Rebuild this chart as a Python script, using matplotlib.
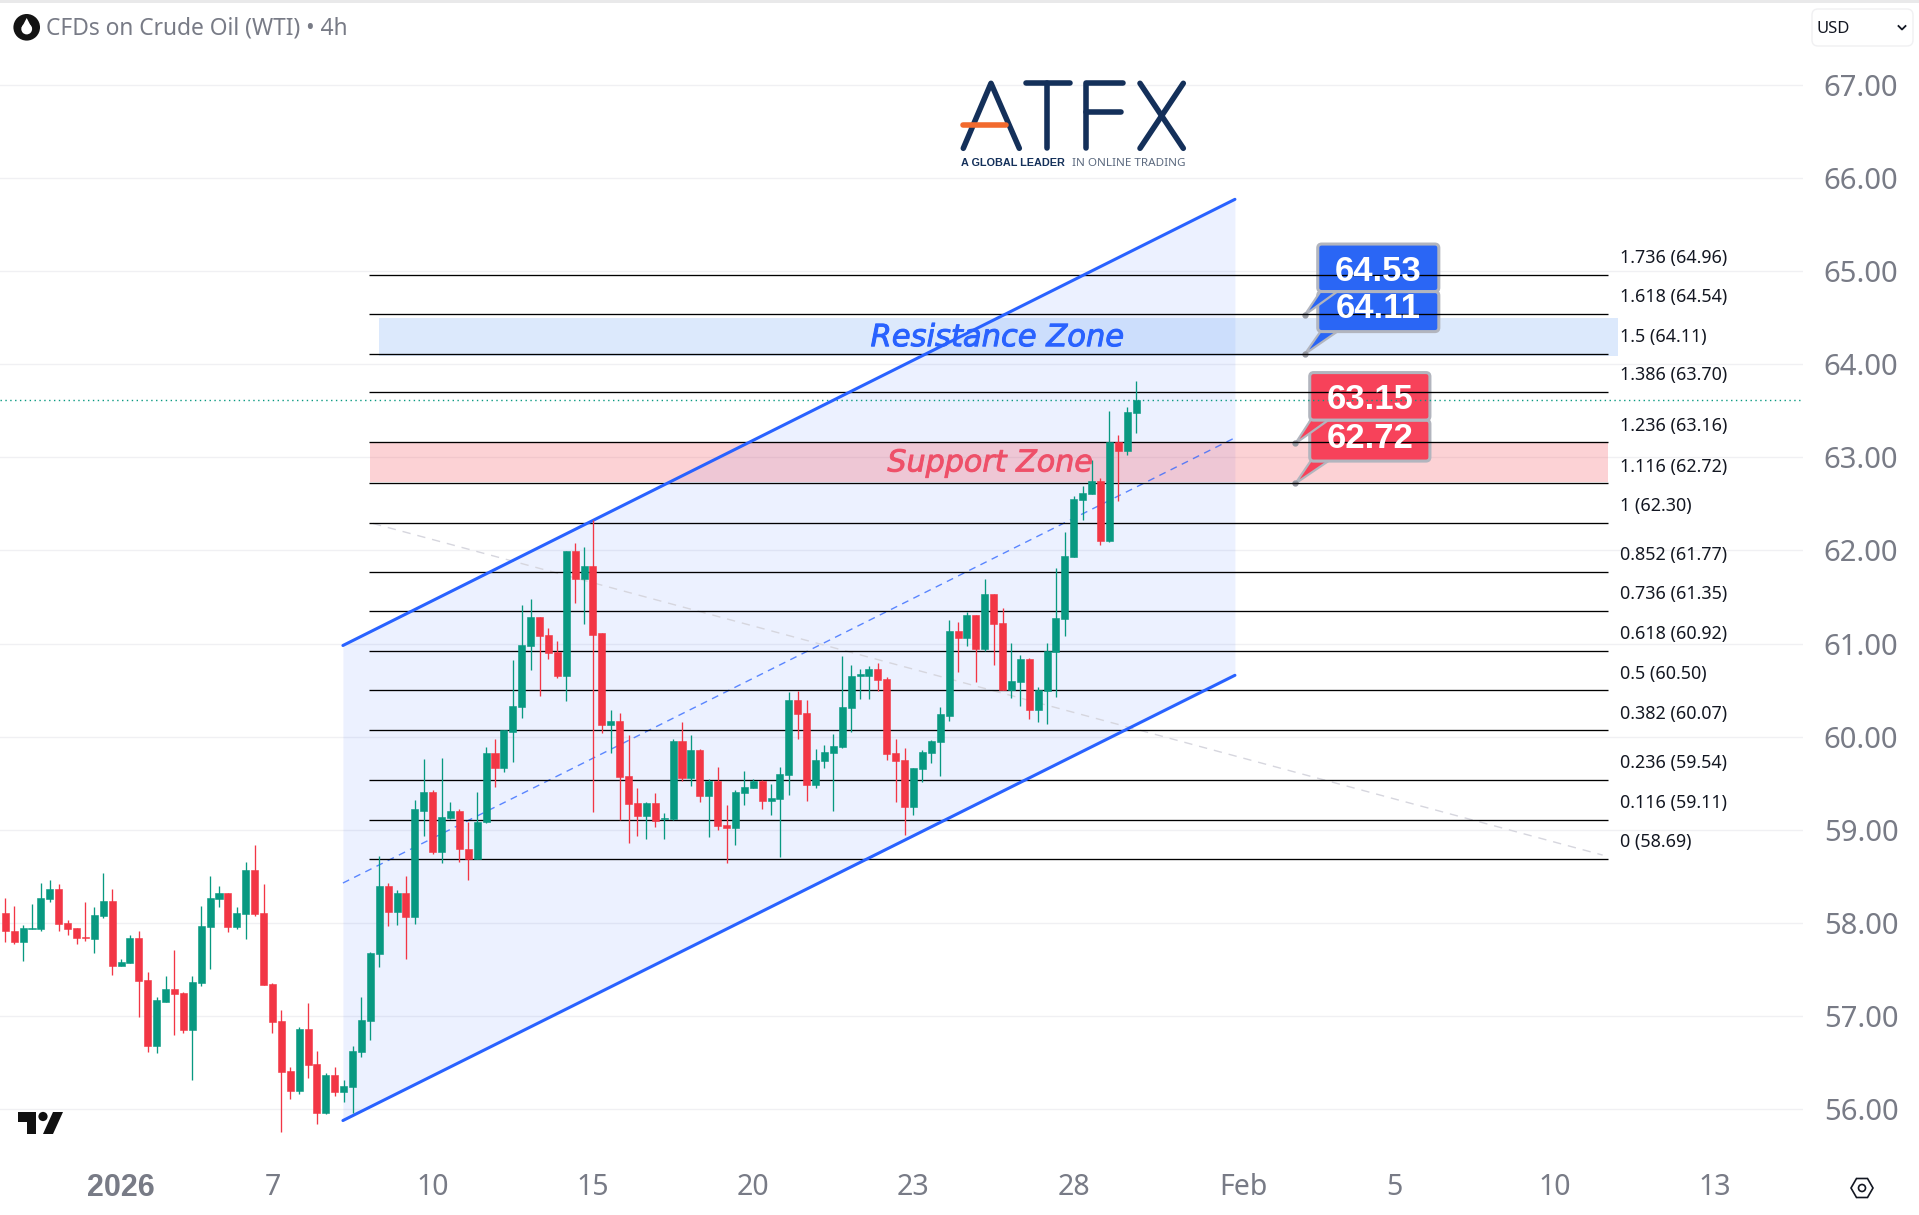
#CFDs on Crude Oil (WTI) 4h candles with channel, fib levels and zones
import matplotlib
matplotlib.use("Agg")
import matplotlib.pyplot as plt
import matplotlib.patheffects as pe
from matplotlib.patches import FancyBboxPatch, Polygon, Circle, Rectangle, Ellipse

opens = [58.11,57.92,57.80,57.94,57.94,58.26,58.37,58.00,57.95,57.85,57.83,58.08,58.24,57.54,57.57,57.84,
         57.39,56.68,57.15,57.29,57.25,56.85,57.36,57.96,58.26,58.32,57.96,58.10,58.57,58.11,57.35,56.95,
         56.41,56.20,56.86,56.49,55.96,56.37,56.19,56.24,56.62,56.95,57.67,58.40,58.12,58.32,58.06,59.20,
         59.41,58.76,59.13,59.20,58.80,58.69,59.08,59.83,59.66,60.05,60.32,60.97,61.29,61.09,60.91,60.65,
         61.99,61.69,61.83,61.11,60.13,60.17,59.58,59.29,59.15,59.29,59.12,59.12,59.95,59.56,59.86,59.36,
         59.52,59.05,59.02,59.40,59.45,59.52,59.31,59.33,59.59,60.39,60.25,59.48,59.74,59.83,59.89,60.31,
         60.65,60.65,60.73,60.62,59.83,59.75,59.25,59.65,59.83,59.94,60.22,61.14,61.06,61.31,60.94,61.53,
         61.22,60.50,60.59,60.83,60.29,60.49,60.91,61.26,61.93,62.54,62.61,62.75,62.10,63.17,63.07,63.48]
highs = [58.27,58.18,57.98,58.20,58.43,58.46,58.42,58.03,57.95,58.23,58.17,58.54,58.37,57.61,57.87,57.92,
         57.48,57.21,57.43,57.71,57.26,57.43,58.18,58.50,58.40,58.32,58.17,58.66,58.84,58.42,57.36,57.07,
         56.46,56.88,57.14,56.63,56.39,56.45,56.32,56.68,57.21,57.69,58.72,58.43,58.36,58.51,59.32,59.76,
         59.43,59.77,59.30,59.23,59.08,59.41,59.89,59.98,60.07,60.82,61.41,61.48,61.29,61.17,61.03,61.99,
         62.08,62.04,62.33,61.11,60.29,60.25,60.02,59.45,59.30,59.40,59.18,59.98,60.16,60.02,59.87,59.55,
         59.68,59.27,59.43,59.63,59.55,59.54,59.49,59.68,60.48,60.49,60.39,59.87,59.91,60.03,60.87,60.77,
         60.73,60.76,60.79,60.64,59.98,59.88,59.67,59.86,59.97,60.32,61.25,61.23,61.34,61.31,61.69,61.53,
         61.38,61.01,60.88,60.85,60.53,61.01,61.81,62.20,62.59,62.69,62.97,62.78,63.50,63.24,63.54,63.82]
lows = [57.80,57.77,57.59,57.94,57.92,58.23,57.92,57.87,57.78,57.81,57.68,58.05,57.44,57.54,57.57,56.99,
        56.62,56.60,57.15,56.80,56.82,56.31,57.32,57.51,58.17,57.90,57.94,57.83,58.08,57.34,56.82,55.76,
        56.11,56.17,56.34,55.84,55.95,56.14,56.08,55.96,56.56,56.74,57.53,57.97,57.98,57.61,57.99,58.94,
        58.74,58.64,59.12,58.66,58.46,58.69,59.07,59.46,59.62,59.73,60.20,60.72,60.44,60.84,60.63,60.38,
        61.44,61.21,59.19,60.04,59.83,59.11,58.86,58.93,58.90,59.03,58.90,59.11,59.53,59.47,59.30,58.92,
        59.00,58.64,58.84,59.27,59.45,59.22,59.16,58.71,59.38,59.98,59.31,59.45,59.66,59.20,59.88,60.05,
        60.41,60.41,60.49,59.75,59.30,58.95,59.16,59.51,59.72,59.58,60.17,60.70,60.97,60.59,60.92,60.77,
        60.50,60.42,60.33,60.19,60.16,60.14,60.43,61.08,61.93,62.33,62.61,62.06,62.09,62.53,63.03,63.26]
closes = [57.91,57.80,57.95,57.95,58.27,58.37,57.99,57.94,57.84,57.84,58.09,58.24,57.54,57.58,57.84,57.38,
          56.68,57.17,57.29,57.24,56.85,57.37,57.97,58.27,58.32,57.96,58.11,58.57,58.10,57.34,56.94,56.40,
          56.20,56.86,56.48,55.96,56.37,56.19,56.25,56.63,56.96,57.68,58.40,58.12,58.32,58.06,59.22,59.41,
          58.76,59.14,59.20,58.79,58.69,59.09,59.83,59.66,60.07,60.33,60.98,61.29,61.08,60.90,60.65,61.99,
          61.69,61.83,61.09,60.13,60.17,59.57,59.28,59.15,59.29,59.10,59.13,59.95,59.56,59.86,59.36,59.52,
          59.04,59.02,59.41,59.46,59.52,59.31,59.34,59.60,60.39,60.24,59.48,59.75,59.84,59.90,60.32,60.65,
          60.67,60.73,60.61,59.82,59.74,59.25,59.66,59.84,59.95,60.24,61.14,61.06,61.31,60.94,61.53,61.21,
          60.50,60.60,60.83,60.29,60.50,60.92,61.27,61.94,62.55,62.62,62.75,62.10,63.17,63.07,63.49,63.62]

fib_levels = ["0","0.116","0.236","0.382","0.5","0.618","0.736","0.852","1","1.116","1.236","1.386","1.5","1.618","1.736"]
fib_prices = [58.69,59.11,59.54,60.07,60.50,60.92,61.35,61.77,62.30,62.72,63.16,63.70,64.11,64.54,64.96]
last_price = 63.62

price_ticks = [56,57,58,59,60,61,62,63,64,65,66,67]
date_ticks = [13,30,48,66,84,102,120,139,156,174,192]
date_labels = ["2026","7","10","15","20","23","28","Feb","5","10","13"]

# channel: bar index and price at both ends
channel_x = [37.92,138.1]
channel_top = [60.98,65.77]
channel_bot = [55.88,60.66]
channel_mid = [58.43,63.21]
trend_x = [41.3,179.4]
trend_y = [62.29,58.73]

green = "#089981"
red = "#f23645"
blue = "#2962ff"
gray = "#787b86"

fig = plt.figure(figsize=(19.19,12.15),dpi=100,facecolor="white")
ax = fig.add_axes([0,60/1215,1803/1919,1155/1215])
ax.set_xlim(-0.595,201.9)
ax.set_ylim(55.51,67.91)
for s in ax.spines.values():
    s.set_visible(False)

ax.yaxis.tick_right()
ax.set_yticks(price_ticks)
ax.set_yticklabels(["%.2f" % p for p in price_ticks],family="Noto Sans",fontsize=21,color=gray)
ax.set_xticks(date_ticks)
ax.set_xticklabels(date_labels,family="Noto Sans",fontsize=20.5,color=gray)
ax.get_xticklabels()[0].set_family("Liberation Sans")
ax.get_xticklabels()[0].set_fontweight("bold")
ax.get_xticklabels()[0].set_fontsize(22)
ax.tick_params(axis="y",length=0,pad=15)
ax.tick_params(axis="x",length=0,pad=13)
ax.grid(axis="y",color="#f0f0f3",lw=1,zorder=0)
ax.set_axisbelow(True)

ax.fill_between(channel_x,channel_bot,channel_top,color=blue,alpha=0.085,lw=0,zorder=1)
ax.axhspan(64.09,64.50,xmin=(42+0.595)/202.495,xmax=(181.1+0.595)/202.495,color="#2a7bf0",alpha=0.16,lw=0,zorder=1.5)
ax.axhspan(62.74,63.17,xmin=(41+0.595)/202.495,xmax=(180+0.595)/202.495,color="#f7525f",alpha=0.26,lw=0,zorder=1.5)

ax.plot(trend_x,trend_y,color="#d6d6de",lw=1,ls=(0,(6,5)),zorder=2)
ax.plot(channel_x,channel_mid,color=blue,lw=1,ls=(0,(5,4)),alpha=0.75,zorder=2)

# callouts sit under the fib lines
def callout(x0,x1,y0,y1,dot_x,dot_y,tail0,tail1,color,text,text_y,z):
    ax.add_patch(Polygon([(tail0,y0),(tail1,y0),(dot_x,dot_y)],closed=True,facecolor=color,edgecolor="#b2b5be",lw=1.6,zorder=z))
    ax.add_patch(FancyBboxPatch((x0,y0),x1-x0,y1-y0,boxstyle="round,pad=0,rounding_size=0.45",mutation_aspect=8.905/93.14,
                                facecolor=color,edgecolor="#b2b5be",lw=2.2,zorder=z))
    ax.plot([dot_x],[dot_y],marker="o",ms=3.5,color="#9598a1",zorder=z)
    ax.text((x0+x1)/2,text_y,text,color="white",family="Liberation Sans",fontweight="bold",fontsize=25,ha="center",va="center",zorder=6)

callout(147.4,161,64.35,64.78,145.95,64.11,147.7,149.6,"#2a66f5","64.11",64.6,2.5)
callout(147.4,161,64.78,65.29,145.95,64.53,147.7,149.6,"#2a66f5","64.53",65.0,2.6)
callout(146.5,160,62.96,63.40,144.9,62.72,146.6,148.6,"#f7425a","62.72",63.2,2.5)
callout(146.5,160,63.40,63.91,144.9,63.15,146.6,148.6,"#f7425a","63.15",63.62,2.6)

ax.hlines(fib_prices,40.9,180,color="black",lw=0.95,zorder=3)
for lev,pr in zip(fib_levels,fib_prices):
    ax.annotate("%s (%.2f)" % (lev,pr),(181.3,pr),xytext=(0,12),textcoords="offset points",
                family="Noto Sans",fontsize=12.9,color="#131722",ha="left",va="center",zorder=6)

ax.plot(channel_x,channel_top,color=blue,lw=2.2,zorder=3.5,solid_capstyle="round")
ax.plot(channel_x,channel_bot,color=blue,lw=2.2,zorder=3.5,solid_capstyle="round")

ax.axhline(last_price,color=green,lw=1,ls=(0,(1,2.5)),zorder=3.2)

# candles
xs = list(range(len(opens)))
colors = [green if c >= o else red for o,c in zip(opens,closes)]
ax.vlines(xs,lows,highs,colors=colors,lw=0.95,zorder=4)
ax.bar(xs,[c-o for o,c in zip(opens,closes)],bottom=opens,width=0.79,color=colors,edgecolor=colors,lw=0.4,zorder=4.2)

thick_blue = [pe.withStroke(linewidth=0.7,foreground=blue)]
thick_red = [pe.withStroke(linewidth=0.7,foreground="#ee4f68")]
ax.text(111.4,64.285,"Resistance Zone",color=blue,family="DejaVu Sans",style="italic",fontsize=22,ha="center",va="center",zorder=5,path_effects=thick_blue)
ax.text(110.6,62.94,"Support Zone",color="#ee4f68",family="DejaVu Sans",style="italic",fontsize=21.7,ha="center",va="center",alpha=0.9,zorder=5,path_effects=thick_red)

# page furniture, pixel coordinates
top = fig.add_axes([0,0,1,1],facecolor="none")
top.set_xlim(0,1919)
top.set_ylim(1215,0)
top.axis("off")
top.add_patch(Rectangle((0,0),1919,3,color="#e9e9ea",lw=0))

top.add_patch(Circle((26.7,27.3),13.3,color="#131313",lw=0))
top.add_patch(Polygon([(26.7,18),(21.5,28),(31.9,28)],color="white",lw=0))
top.add_patch(Circle((26.7,29),5.4,color="white",lw=0))
top.text(46,29,"CFDs on Crude Oil (WTI) • 4h",family="Noto Sans",fontsize=16.4,color=gray,ha="left",va="center")

top.add_patch(FancyBboxPatch((1812,9),101,37,boxstyle="round,pad=0,rounding_size=6",facecolor="white",edgecolor="#f0f0f2",lw=1))
top.text(1817,29,"USD",family="Noto Sans",fontsize=12,color="#131722",ha="left",va="center")
top.plot([1898.5,1902,1905.5],[26,29.5,26],color="#131722",lw=1.3)

navy = "#14305a"
top.plot([963.3,991,1019.3],[148.3,83.3,148.3],color=navy,lw=4,solid_capstyle="round",solid_joinstyle="round")
top.plot([963.3,1006],[125,125],color="#f26a2e",lw=4,solid_capstyle="round")
top.plot([1025.7,1070],[83.3,83.3],color=navy,lw=4,solid_capstyle="round")
top.plot([1047.3,1047.3],[83.3,148.3],color=navy,lw=4,solid_capstyle="round")
top.plot([1085.7,1085.7,1123.3],[148.3,83.3,83.3],color=navy,lw=4,solid_capstyle="round",solid_joinstyle="round")
top.plot([1085.7,1120.7],[111.7,111.7],color=navy,lw=4,solid_capstyle="round")
top.plot([1140,1183.3],[83.3,148.3],color=navy,lw=4,solid_capstyle="round")
top.plot([1183.3,1140],[83.3,148.3],color=navy,lw=4,solid_capstyle="round")
top.text(961,163,"A GLOBAL LEADER",family="Liberation Sans",fontweight="bold",fontsize=7.8,color=navy,ha="left",va="center")
top.text(1072,163,"IN ONLINE TRADING",family="Noto Sans",fontsize=8.4,color="#5d6b80",ha="left",va="center")

top.add_patch(Polygon([(18,1112),(36,1112),(36,1134),(27,1134),(27,1122),(18,1122)],color="#101010",lw=0))
top.add_patch(Circle((43,1116.5),4.6,color="#101010",lw=0))
top.add_patch(Polygon([(53,1112),(63,1112),(53,1134),(43,1134)],color="#101010",lw=0))

top.add_patch(Polygon([(1851,1188),(1856.5,1178.5),(1867.5,1178.5),(1873,1188),(1867.5,1197.5),(1856.5,1197.5)],closed=True,fill=False,ec="#131722",lw=1.2))
top.add_patch(Ellipse((1862,1188),7,7,fill=False,ec="#131722",lw=1.2))

fig.savefig("out.png",dpi=100)
